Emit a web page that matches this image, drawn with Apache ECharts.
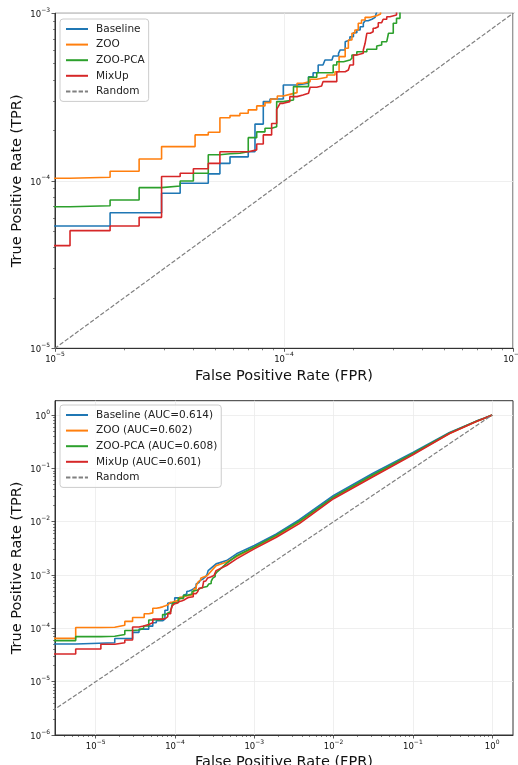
<!DOCTYPE html>
<html>
<head>
<meta charset="utf-8">
<title>ROC curves (log scale)</title>
<script src="https://cdn.jsdelivr.net/npm/echarts@6/dist/echarts.min.js"></script>
<style>
  html, body { margin: 0; padding: 0; background: #fff; }
  #chart { width: 518px; height: 765px; }
</style>
</head>
<body>
<div id="chart"></div>
<script>
// ---- data ----
// staircase part: at each fpr the curve jumps up to the tpr listed
const baseFpr = [1e-6, 5.6e-6, 1.74e-5, 2.92e-5, 3.52e-5, 4.67e-5, 5.25e-5, 5.81e-5, 6.98e-5, 7.47e-5, 8.12e-5, 8.69e-5, 9.93e-5, 1.14e-4, 1.28e-4, 1.34e-4, 1.41e-4, 1.48e-4, 1.51e-4, 1.62e-4, 1.64e-4, 1.73e-4, 1.76e-4, 1.85e-4, 1.88e-4, 1.94e-4, 2.01e-4, 2.08e-4, 2.15e-4, 2.22e-4, 2.26e-4, 2.33e-4, 2.42e-4, 2.50e-4, 2.54e-4]
const baseTpr = [5.1e-5, 5.37e-5, 6.45e-5, 8.42e-5, 9.66e-5, 1.10e-4, 1.27e-4, 1.39e-4, 1.49e-4, 2.18e-4, 2.97e-4, 3.08e-4, 3.73e-4, 3.82e-4, 4.18e-4, 4.42e-4, 4.91e-4, 5.03e-4, 5.26e-4, 5.39e-4, 5.56e-4, 5.77e-4, 6.04e-4, 6.77e-4, 6.93e-4, 7.25e-4, 7.66e-4, 7.95e-4, 8.32e-4, 8.72e-4, 9.03e-4, 9.21e-4, 9.46e-4, 9.63e-4, 1.02e-3]
const zooFpr = [1e-6, 5.6e-6, 1.163e-5, 1.74e-5, 2.33e-5, 2.92e-5, 4.09e-5, 4.67e-5, 5.25e-5, 5.81e-5, 6.42e-5, 6.98e-5, 7.60e-5, 8.26e-5, 8.75e-5, 9.35e-5, 9.93e-5, 1.06e-4, 1.14e-4, 1.21e-4, 1.30e-4, 1.39e-4, 1.54e-4, 1.67e-4, 1.74e-4, 1.85e-4, 1.91e-4, 1.98e-4, 2.04e-4, 2.11e-4, 2.18e-4, 2.26e-4, 2.38e-4, 2.54e-4, 2.64e-4]
const zooTpr = [6.5e-5, 1.035e-4, 1.05e-4, 1.14e-4, 1.35e-4, 1.60e-4, 1.88e-4, 1.95e-4, 2.38e-4, 2.45e-4, 2.53e-4, 2.65e-4, 2.80e-4, 2.93e-4, 3.08e-4, 3.21e-4, 3.28e-4, 3.36e-4, 3.82e-4, 3.91e-4, 4.04e-4, 4.15e-4, 4.28e-4, 4.48e-4, 5.51e-4, 6.18e-4, 6.93e-4, 7.60e-4, 7.95e-4, 8.72e-4, 9.12e-4, 9.46e-4, 9.67e-4, 9.90e-4, 1.04e-3]
const pcaFpr = [1e-6, 5.6e-6, 1.163e-5, 1.74e-5, 2.33e-5, 2.92e-5, 3.52e-5, 4.02e-5, 4.67e-5, 5.25e-5, 5.81e-5, 6.42e-5, 6.98e-5, 7.60e-5, 8.26e-5, 8.83e-5, 9.29e-5, 9.93e-5, 1.10e-4, 1.28e-4, 1.39e-4, 1.64e-4, 1.70e-4, 1.82e-4, 1.94e-4, 1.98e-4, 2.08e-4, 2.30e-4, 2.54e-4, 2.58e-4, 2.67e-4, 2.81e-4, 2.86e-4, 3.00e-4, 3.10e-4, 3.21e-4]
const pcaTpr = [5.9e-5, 7.0e-5, 7.10e-5, 7.68e-5, 9.1e-5, 9.31e-5, 9.97e-5, 1.11e-4, 1.43e-4, 1.45e-4, 1.46e-4, 1.49e-4, 1.81e-4, 1.96e-4, 2.06e-4, 2.10e-4, 2.97e-4, 3.04e-4, 3.65e-4, 4.15e-4, 4.42e-4, 4.91e-4, 5.14e-4, 5.26e-4, 5.39e-4, 5.64e-4, 5.90e-4, 6.10e-4, 6.38e-4, 6.47e-4, 6.77e-4, 6.93e-4, 7.60e-4, 8.72e-4, 9.33e-4, 1.03e-3]
const mixFpr = [1e-6, 5.6e-6, 1.163e-5, 1.74e-5, 2.33e-5, 2.92e-5, 3.52e-5, 4.02e-5, 4.67e-5, 5.25e-5, 6.98e-5, 7.60e-5, 8.12e-5, 8.83e-5, 9.29e-5, 9.44e-5, 9.61e-5, 9.93e-5, 1.06e-4, 1.14e-4, 1.21e-4, 1.28e-4, 1.30e-4, 1.39e-4, 1.46e-4, 1.48e-4, 1.70e-4, 1.85e-4, 1.91e-4, 1.94e-4, 2.01e-4, 2.08e-4, 2.22e-4, 2.26e-4, 2.30e-4, 2.38e-4, 2.45e-4, 2.50e-4, 2.58e-4, 2.67e-4, 2.71e-4, 2.81e-4, 2.90e-4, 3.10e-4]
const mixTpr = [3.3e-5, 4.1e-5, 5.04e-5, 5.37e-5, 6.05e-5, 1.06e-4, 1.11e-4, 1.18e-4, 1.27e-4, 1.49e-4, 1.53e-4, 1.66e-4, 1.88e-4, 2.20e-4, 2.67e-4, 2.77e-4, 2.90e-4, 2.97e-4, 3.18e-4, 3.25e-4, 3.33e-4, 3.40e-4, 3.62e-4, 3.68e-4, 3.78e-4, 3.91e-4, 4.48e-4, 4.59e-4, 4.70e-4, 4.91e-4, 5.64e-4, 5.77e-4, 6.04e-4, 6.62e-4, 7.60e-4, 7.76e-4, 8.14e-4, 8.32e-4, 8.79e-4, 8.91e-4, 9.21e-4, 9.54e-4, 9.77e-4, 1.05e-3]

// smooth upper part (only visible in the full-range plot)
const baseTailFpr = [2.62e-4, 3.3e-4, 4.47e-4, 5.97e-4, 1e-3, 1.9e-3, 3.7e-3, 1e-2, 3.1e-2, 0.1, 0.29, 0.63, 0.8, 1]
const baseTailTpr = [1.21e-3, 1.62e-3, 1.87e-3, 2.5e-3, 3.58e-3, 5.9e-3, 1.09e-2, 3.1e-2, 0.080, 0.20, 0.47, 0.77, 0.88, 1]
const zooTailFpr = [3.3e-4, 4.47e-4, 5.97e-4, 1e-3, 1.9e-3, 3.7e-3, 1e-2, 3.1e-2, 0.1, 0.29, 0.63, 0.8, 1]
const zooTailTpr = [1.5e-3, 1.75e-3, 2.2e-3, 3.25e-3, 5.4e-3, 9.8e-3, 2.8e-2, 0.071, 0.185, 0.45, 0.755, 0.87, 1]
const pcaTailFpr = [3.4e-4, 4.47e-4, 5.97e-4, 1e-3, 1.9e-3, 3.7e-3, 1e-2, 3.1e-2, 0.1, 0.29, 0.63, 0.8, 1]
const pcaTailTpr = [1.15e-3, 1.65e-3, 2.3e-3, 3.35e-3, 5.6e-3, 1.02e-2, 2.9e-2, 0.075, 0.19, 0.46, 0.765, 0.875, 1]
const mixTailFpr = [3.3e-4, 4.47e-4, 5.97e-4, 1e-3, 1.9e-3, 3.7e-3, 1e-2, 3.1e-2, 0.1, 0.29, 0.63, 0.8, 1]
const mixTailTpr = [1.21e-3, 1.51e-3, 2.01e-3, 3.1e-3, 5.1e-3, 9.2e-3, 2.7e-2, 0.069, 0.18, 0.45, 0.755, 0.87, 1]

const randomFpr = [1e-7, 1]
const randomTpr = [1e-7, 1]

const names = ['Baseline', 'ZOO', 'ZOO-PCA', 'MixUp']
const aucs = ['0.614', '0.602', '0.608', '0.601']
const colors = ['#1f77b4', '#ff7f0e', '#2ca02c', '#d62728']

// tick labels
const topTicks = [1e-5, 1e-4, 1e-3]
const bottomXTicks = [1e-5, 1e-4, 1e-3, 1e-2, 1e-1, 1]
const bottomYTicks = [1e-6, 1e-5, 1e-4, 1e-3, 1e-2, 1e-1, 1]
const minorMult = [2, 3, 4, 5, 6, 7, 8, 9]
const topDecades = [1e-5, 1e-4]
const bottomDecades = [1e-6, 1e-5, 1e-4, 1e-3, 1e-2, 1e-1]

// axis ranges
const topRange = [1e-5, 1e-3]
const bottomXRange = [3.07e-6, 1.83]
const bottomYRange = [1e-6, 1.86]

const FONT = 'DejaVu Sans'

// ---- helpers ----
// turn the staircase breakpoints into corner points, then add the smooth tail
function rocPoints(fpr, tpr, tailFpr, tailTpr) {
  const pts = [[fpr[0], tpr[0]]]
  for (let i = 1; i < fpr.length; i++) {
    pts.push([fpr[i], tpr[i - 1]])
    pts.push([fpr[i], tpr[i]])
  }
  for (let i = 0; i < tailFpr.length; i++) {
    pts.push([tailFpr[i], tailTpr[i]])
  }
  return pts
}

function minorValues(decades) {
  const out = []
  decades.forEach((d) => minorMult.forEach((m) => out.push(m * d)))
  return out
}

function tickFmt(v) {
  const e = Math.round(Math.log10(v))
  return '{b|10}{s|' + (e < 0 ? '\u2212' + (-e) : e) + '}'
}

const tickRich = {
  b: { fontSize: 8.5, lineHeight: 12, verticalAlign: 'bottom', color: '#111', fontFamily: FONT },
  s: { fontSize: 6, lineHeight: 7, verticalAlign: 'top', color: '#111', fontFamily: FONT }
}

function mainAxis(gridIndex, range, ticks, name, isY, labelMargin) {
  return {
    type: 'log',
    logBase: 10,
    gridIndex: gridIndex,
    position: isY ? 'left' : 'bottom',
    min: range[0],
    max: range[1],
    name: name,
    nameLocation: 'middle',
    nameGap: isY ? 30 : 20,
    // keep the gap measured from the axis line
    nameMoveOverlap: false,
    nameTextStyle: { fontSize: 14.5, color: '#111', fontFamily: FONT },
    axisLine: { show: true, lineStyle: { color: '#333', width: 1 } },
    axisTick: { show: true, customValues: ticks, length: 3.5, lineStyle: { color: '#333', width: 0.8 } },
    axisLabel: {
      show: true,
      customValues: ticks,
      formatter: tickFmt,
      rich: tickRich,
      margin: labelMargin,
      hideOverlap: false
    },
    splitLine: { show: true, lineStyle: { color: '#ebebeb', width: 0.8 } },
    minorTick: { show: false },
    minorSplitLine: { show: false }
  }
}

function minorAxis(gridIndex, range, vals, isY) {
  return {
    type: 'log',
    logBase: 10,
    gridIndex: gridIndex,
    position: isY ? 'left' : 'bottom',
    min: range[0],
    max: range[1],
    axisLine: { show: false },
    axisLabel: { show: false },
    splitLine: { show: false },
    axisTick: { show: true, customValues: vals, length: 2, lineStyle: { color: '#333', width: 0.6 } }
  }
}

function curveSeries(name, color, data, gi) {
  return {
    name: name,
    type: 'line',
    xAxisIndex: gi * 2,
    yAxisIndex: gi * 2,
    data: data,
    symbol: 'none',
    showSymbol: false,
    clip: true,
    lineStyle: { color: color, width: 1.6 },
    itemStyle: { color: color },
    emphasis: { disabled: true }
  }
}

function randomSeries(gi) {
  return {
    name: 'Random',
    type: 'line',
    xAxisIndex: gi * 2,
    yAxisIndex: gi * 2,
    data: randomFpr.map((x, i) => [x, randomTpr[i]]),
    symbol: 'none',
    showSymbol: false,
    clip: true,
    lineStyle: { color: '#808080', width: 1.2, type: [4.4, 1.9] },
    itemStyle: { color: '#808080' },
    emphasis: { disabled: true }
  }
}

function legendBox(data, left, top) {
  return {
    data: data,
    left: left,
    top: top,
    orient: 'vertical',
    itemWidth: 22,
    itemHeight: 12,
    itemGap: 3.6,
    padding: [4, 4, 4, 5],
    backgroundColor: 'rgba(255,255,255,0.8)',
    borderColor: '#cccccc',
    borderWidth: 1,
    borderRadius: 3,
    selectedMode: false,
    // hide the symbol the line series puts in the middle of its legend icon
    itemStyle: { opacity: 0 },
    textStyle: { fontSize: 10.5, color: '#222', fontFamily: FONT, lineHeight: 12, padding: [0, 0, 0, 3] }
  }
}

// ---- chart ----
const curves = [
  rocPoints(baseFpr, baseTpr, baseTailFpr, baseTailTpr),
  rocPoints(zooFpr, zooTpr, zooTailFpr, zooTailTpr),
  rocPoints(pcaFpr, pcaTpr, pcaTailFpr, pcaTailTpr),
  rocPoints(mixFpr, mixTpr, mixTailFpr, mixTailTpr)
]
const bottomNames = names.map((n, i) => n + ' (AUC=' + aucs[i] + ')')

const series = []
curves.forEach((c, i) => series.push(curveSeries(names[i], colors[i], c, 0)))
series.push(randomSeries(0))
curves.forEach((c, i) => series.push(curveSeries(bottomNames[i], colors[i], c, 1)))
series.push(randomSeries(1))

const chart = echarts.init(document.getElementById('chart'), null, { renderer: 'canvas' })
chart.setOption({
  animation: false,
  backgroundColor: '#ffffff',
  textStyle: { fontFamily: FONT },
  grid: [
    { left: 55, top: 13.3, width: 458, height: 335, show: true, borderColor: '#333', borderWidth: 1, outerBoundsMode: 'none', containLabel: false },
    { left: 55, top: 400.7, width: 458, height: 334.3, show: true, borderColor: '#333', borderWidth: 1, outerBoundsMode: 'none', containLabel: false }
  ],
  xAxis: [
    mainAxis(0, topRange, topTicks, 'False Positive Rate (FPR)', false, 3.5),
    minorAxis(0, topRange, minorValues(topDecades), false),
    mainAxis(1, bottomXRange, bottomXTicks, 'False Positive Rate (FPR)', false, 4.5),
    minorAxis(1, bottomXRange, minorValues(bottomDecades), false)
  ],
  yAxis: [
    mainAxis(0, topRange, topTicks, 'True Positive Rate (TPR)', true, 5),
    minorAxis(0, topRange, minorValues(topDecades), true),
    mainAxis(1, bottomYRange, bottomYTicks, 'True Positive Rate (TPR)', true, 5),
    minorAxis(1, bottomYRange, minorValues(bottomDecades), true)
  ],
  legend: [
    legendBox(names.concat(['Random']), 60, 19),
    legendBox(bottomNames.concat(['Random']), 60, 405)
  ],
  series: series
})
</script>
</body>
</html>
